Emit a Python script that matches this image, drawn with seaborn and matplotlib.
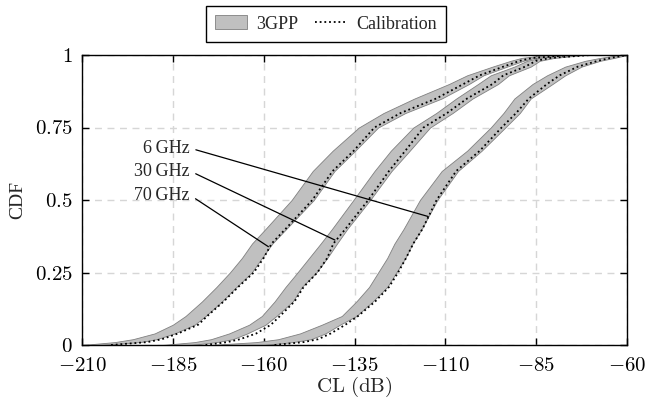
import numpy as np
import pandas as pd
import matplotlib
matplotlib.use('Agg')
import matplotlib.pyplot as plt
import seaborn as sns
from matplotlib.patches import Patch
from matplotlib.lines import Line2D

# ---------------- data ----------------
cdf_levels = [0, 0.01, 0.02, 0.04, 0.07, 0.1, 0.15, 0.2, 0.25, 0.3, 0.35, 0.4,
              0.5, 0.6, 0.67, 0.75, 0.8, 0.85, 0.9, 0.93, 0.96, 0.98, 0.99, 1.0]

# 70 GHz
gpp70_low = [-210, -201, -196, -190, -185, -181.5, -177, -173, -169.3, -166, -163.2, -159.5,
             -152.3, -146.5, -141, -133.8, -127, -118.5, -109, -104, -97, -92, -89, -82]
gpp70_high = [-205, -194, -189.5, -184.5, -179, -176, -171.5, -167.5, -163.3, -160.5, -157.6, -153.8,
              -146.2, -140.5, -134.8, -128.5, -121, -111, -103.5, -99.5, -93, -88.5, -85.5, -76]
cal70 = [-202, -192, -188, -183.5, -178, -175.5, -171, -167, -162.7, -160, -157.8, -154,
         -146.6, -141, -135.2, -129.5, -122.3, -112.5, -105, -100.5, -94, -89.5, -86, -75]

# 30 GHz
gpp30_low = [-188, -179, -174.5, -169.5, -164, -160.5, -157, -154, -150.7, -147.5, -144.3, -141.2,
             -135.3, -129.5, -125, -118.8, -112.5, -107, -101, -97.5, -91, -87.5, -84, -78]
gpp30_high = [-180, -173, -168.5, -164.5, -159.5, -156.5, -152, -149.5, -145.5, -142.5, -139.8, -137,
              -130.7, -124.8, -119.8, -114.2, -108, -102.5, -95.5, -92.5, -86.5, -84, -80, -72]
cal30 = [-176, -170, -166.5, -162, -158, -155.5, -151.5, -149, -145.2, -142.5, -140.8, -137.5,
         -131.2, -125.5, -121, -116, -109.5, -104, -97, -94, -88, -85, -81, -70]

# 6 GHz
gpp6_low = [-175, -162, -156, -150, -144, -138.5, -134.5, -131, -128.5, -126, -124, -121.5,
            -117, -111, -104, -97.5, -94, -91, -86, -82, -77, -71.5, -67.4, -62]
gpp6_high = [-160, -152, -147, -143, -139, -134.5, -130, -126, -123.5, -121, -119, -116.5,
             -112.2, -106.5, -100, -93.5, -89.5, -86.5, -80.5, -77, -72.5, -67.4, -63.5, -60]
cal6 = [-157, -149, -145, -141.5, -137.5, -134, -129.3, -125.5, -123, -120.8, -118.8, -116.3,
        -112.4, -107, -100.5, -94.5, -90.5, -87, -82, -78.5, -73.5, -68, -64.5, -60]

x_ticks = [-210, -185, -160, -135, -110, -85, -60]
y_ticks = [0, 0.25, 0.5, 0.75, 1]
y_tick_labels = ['0', '0.25', '0.5', '0.75', '1']

labels = ['6\u2009GHz', '30\u2009GHz', '70\u2009GHz']
label_pos_cl = [-180.3, -180.3, -180.3]
label_pos_cdf = [0.679, 0.600, 0.517]
pointer_cl = [-114.7, -140.4, -158.7]
pointer_cdf = [0.443, 0.362, 0.339]

# ---------------- style ----------------
sns.set_theme(style='ticks')
plt.rcParams['font.family'] = ['Liberation Serif', 'DejaVu Serif']
plt.rcParams['mathtext.fontset'] = 'cm'

fig = plt.figure(figsize=(6.47, 4.01), dpi=100)
ax = fig.add_axes([82 / 647, 1 - 345 / 401, 545 / 647, 290 / 401])

band_face = '#c0c0c0'
band_edge = '#808080'
dot_style = (0, (1, 1.6))

bands = [(gpp70_low, gpp70_high), (gpp30_low, gpp30_high), (gpp6_low, gpp6_high)]
for lo, hi in bands:
    ax.fill_betweenx(cdf_levels, lo, hi, facecolor=band_face, edgecolor=band_edge,
                     linewidth=0.6, zorder=2)

for cal in [cal70, cal30, cal6]:
    df = pd.DataFrame({'CL': cal + [-60], 'CDF': cdf_levels + [1.0]})
    sns.lineplot(data=df, x='CL', y='CDF', sort=False, estimator=None, color='black',
                 linestyle=dot_style, linewidth=1.3, ax=ax, zorder=3)

for txt, tx, ty, px, py in zip(labels, label_pos_cl, label_pos_cdf, pointer_cl, pointer_cdf):
    ax.annotate(txt, xy=(px, py), xytext=(tx, ty), ha='right', va='center', fontsize=13,
                family=['Liberation Serif', 'DejaVu Serif'],
                arrowprops=dict(arrowstyle='-', color='black', lw=0.9, relpos=(1, 0.5),
                                shrinkA=2, shrinkB=0), zorder=4)

ax.set_xlim(-210, -60)
ax.set_ylim(0, 1)
ax.set_xticks(x_ticks, labels=[f'${t}$' for t in x_ticks])
ax.set_yticks(y_ticks, labels=[f'${t}$' for t in y_tick_labels])
ax.tick_params(direction='in', top=True, right=True, length=5, width=1, labelsize=15,
               colors='black')
ax.tick_params(axis='x', pad=8.5)
ax.tick_params(axis='y', pad=6.5)
ax.grid(True, color='#d6d6d6', linestyle=(0, (5, 4)), linewidth=1)
ax.set_axisbelow(True)
for s in ax.spines.values():
    s.set_color('black')
    s.set_linewidth(1)

ax.set_xlabel(r'$\mathrm{CL\ (dB)}$', fontsize=15, labelpad=-1)
ax.set_ylabel('CDF', fontsize=14, labelpad=6)

handles = [Patch(facecolor=band_face, edgecolor=band_edge, linewidth=0.6),
           Line2D([], [], color='black', linestyle=dot_style, linewidth=1.3)]
leg = fig.legend(handles, ['3GPP', 'Calibration'], loc='center',
                 bbox_to_anchor=(326 / 647, 1 - 24 / 401), ncol=2, frameon=True,
                 fancybox=False, edgecolor='black', framealpha=1, fontsize=13,
                 handlelength=1.8, handleheight=0.8, columnspacing=0.9, borderpad=0.5,
                 handletextpad=0.5)
leg.get_frame().set_linewidth(1.0)

fig.savefig('out.png', dpi=100)
